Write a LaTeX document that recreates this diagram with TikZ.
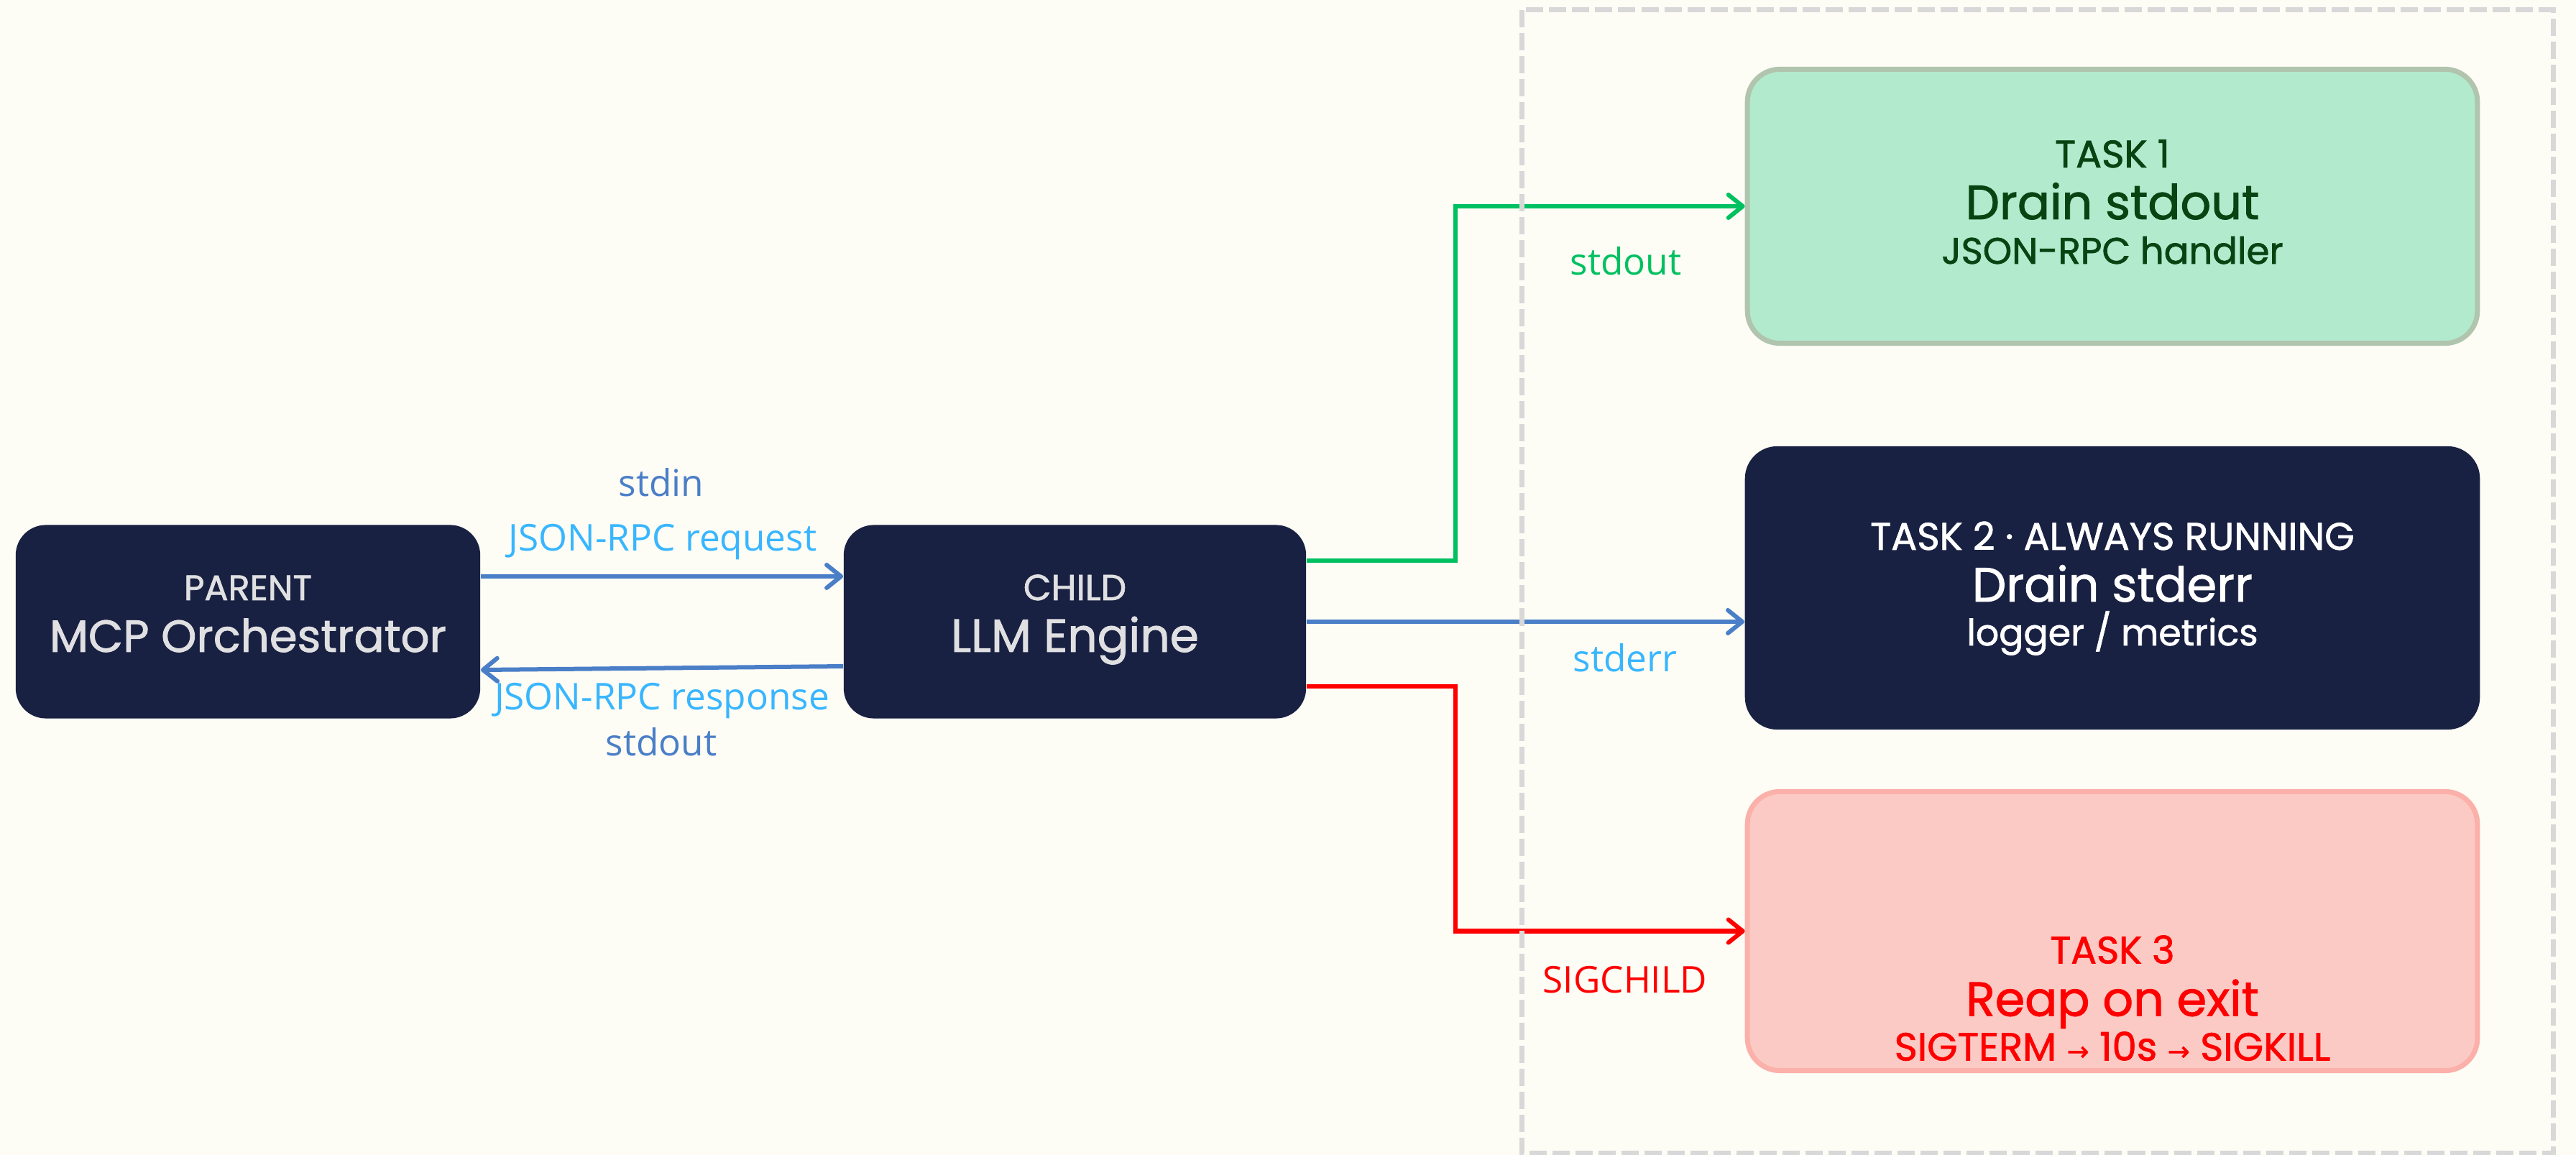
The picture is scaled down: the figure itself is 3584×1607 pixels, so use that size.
\documentclass[tikz,border=0pt]{standalone}
\usepackage{fontspec}
\setmainfont{Open Sans}
\newfontfamily\boxfont{Poppins}[FakeBold=1.4]
\newfontfamily\symfont{DejaVu Sans}[FakeBold=1.2]
\usetikzlibrary{arrows.meta}
\definecolor{bg}{RGB}{253,252,245}
\definecolor{navy}{RGB}{25,33,66}
\definecolor{navytext}{RGB}{224,224,226}
\definecolor{linkblue}{RGB}{74,127,200}
\definecolor{lightblue}{RGB}{56,182,255}
\definecolor{greenline}{RGB}{0,192,96}
\definecolor{mintfill}{RGB}{178,234,206}
\definecolor{mintborder}{RGB}{176,196,174}
\definecolor{darkgreen}{RGB}{8,68,18}
\definecolor{pinkfill}{RGB}{252,202,197}
\definecolor{pinkborder}{RGB}{251,176,170}
\definecolor{redtext}{RGB}{255,0,0}
\definecolor{dashgrey}{RGB}{216,216,216}
\newcommand{\fs}[1]{\fontsize{#1}{#1}\selectfont}
\newcommand{\smallarrow}{{\symfont\fontsize{10.5}{12}\selectfont →}}
\tikzset{
  navybox/.style={rounded corners=0.42cm, fill=navy, inner sep=0pt},
  greenbox/.style={rounded corners=0.45cm, fill=mintfill, draw=mintborder, line width=0.07cm, inner sep=0pt},
  darkbox/.style={rounded corners=0.45cm, fill=navy, inner sep=0pt},
  pinkbox/.style={rounded corners=0.45cm, fill=pinkfill, draw=pinkborder, line width=0.07cm, inner sep=0pt},
  boxtext/.style={anchor=base, inner sep=0pt, font=\boxfont},
  lbl/.style={anchor=base, inner sep=0pt, font=\fontsize{14.6}{17}\selectfont},
  conn/.style={line width=0.06cm, -{Straight Barb[length=0.2cm,width=0.32cm,line cap=round,line join=round]}},
}
\begin{document}
\begin{tikzpicture}[x=0.01cm,y=-0.01cm]
\fill[bg] (0,0) rectangle (3584,1607);
\useasboundingbox (0,0) rectangle (3584,1607);

% main boxes
\node[navybox, minimum width=6.46cm, minimum height=2.69cm] (parent) at (345,865) {};
\node[navybox, minimum width=6.43cm, minimum height=2.69cm] (child) at (1495.5,865) {};
\node[greenbox, minimum width=10.15cm, minimum height=3.81cm] (task1) at (2939,287) {};
\node[darkbox, minimum width=10.22cm, minimum height=3.94cm] (task2) at (2939,818) {};
\node[pinkbox, minimum width=10.15cm, minimum height=3.88cm] (task3) at (2939,1295.5) {};

% box texts
\path (parent.center) ++(0,-30) node[boxtext, text=navytext] (ptop) {\fs{14}PARENT};
\path (parent.center) ++(0,42) node[boxtext, text=navytext] (pmain) {\fs{17.8}MCP Orchestrator};
\path (child.center) ++(0,-30) node[boxtext, text=navytext] (ctop) {\fs{14.3}CHILD};
\path (child.center) ++(0,42) node[boxtext, text=navytext] (cmain) {\fs{18.4}LLM Engine};

\path (task1.center) ++(0,-54) node[boxtext, text=darkgreen] (t1a) {\fs{15.2}TASK 1};
\path (task1.center) ++(0,18) node[boxtext, text=darkgreen] (t1b) {\fs{19}Drain stdout};
\path (task1.center) ++(0,80) node[boxtext, text=darkgreen] (t1c) {\fs{14.6}JSON-RPC handler};

\path (task2.center) ++(0,-53) node[boxtext, text=white] (t2a) {\fs{15.2}TASK 2 · ALWAYS RUNNING};
\path (task2.center) ++(0,19) node[boxtext, text=white] (t2b) {\fs{19}Drain stderr};
\path (task2.center) ++(0,80) node[boxtext, text=white] (t2c) {\fs{14.4}logger / metrics};

\path (task3.center) ++(0,45) node[boxtext, text=redtext] (t3a) {\fs{15.1}TASK 3};
\path (task3.center) ++(0,118) node[boxtext, text=redtext] (t3b) {\fs{19}Reap on exit};
\path (task3.center) ++(0,180) node[boxtext, text=redtext] (t3c) {\fs{15.5}SIGTERM \smallarrow{} 10s \smallarrow{} SIGKILL};

% left connectors
\draw[conn, linkblue] ([yshift=0.63cm]parent.east) -- ([yshift=0.63cm]child.west);
\draw[conn, linkblue] ([yshift=-0.62cm]child.west) -- ([yshift=-0.67cm]parent.east);

\node[lbl, text=linkblue] (lstdin) at (920,691) {stdin};
\node[lbl, text=lightblue] (lreq) at (922,767) {JSON-RPC request};
\node[lbl, text=lightblue] (lresp) at (921,988) {JSON-RPC response};
\node[lbl, text=linkblue] (lstdout) at (920,1052) {stdout};

% right connectors
\coordinate (bend) at (2025,0);
\draw[conn, greenline] ([yshift=0.85cm]child.east) -| (bend |- task1.west) -- (task1.west);
\draw[conn, linkblue] (child.east) -- (child.east -| task2.west);
\draw[conn, red] ([yshift=-0.90cm]child.east) -| (bend |- task3.west) -- (task3.west);

\node[lbl, text=greenline] (lgreen) at (2262,383) {stdout};
\node[lbl, text=lightblue] (lerr) at (2261,935) {stderr};
\node[lbl, text=red] (lsig) at (2261,1381) {SIGCHILD};

% dashed group frame
\draw[dashgrey, line width=0.07cm, dash pattern=on 0.24cm off 0.08cm] (2117,14) rectangle (3552,1604);
\end{tikzpicture}
\end{document}
